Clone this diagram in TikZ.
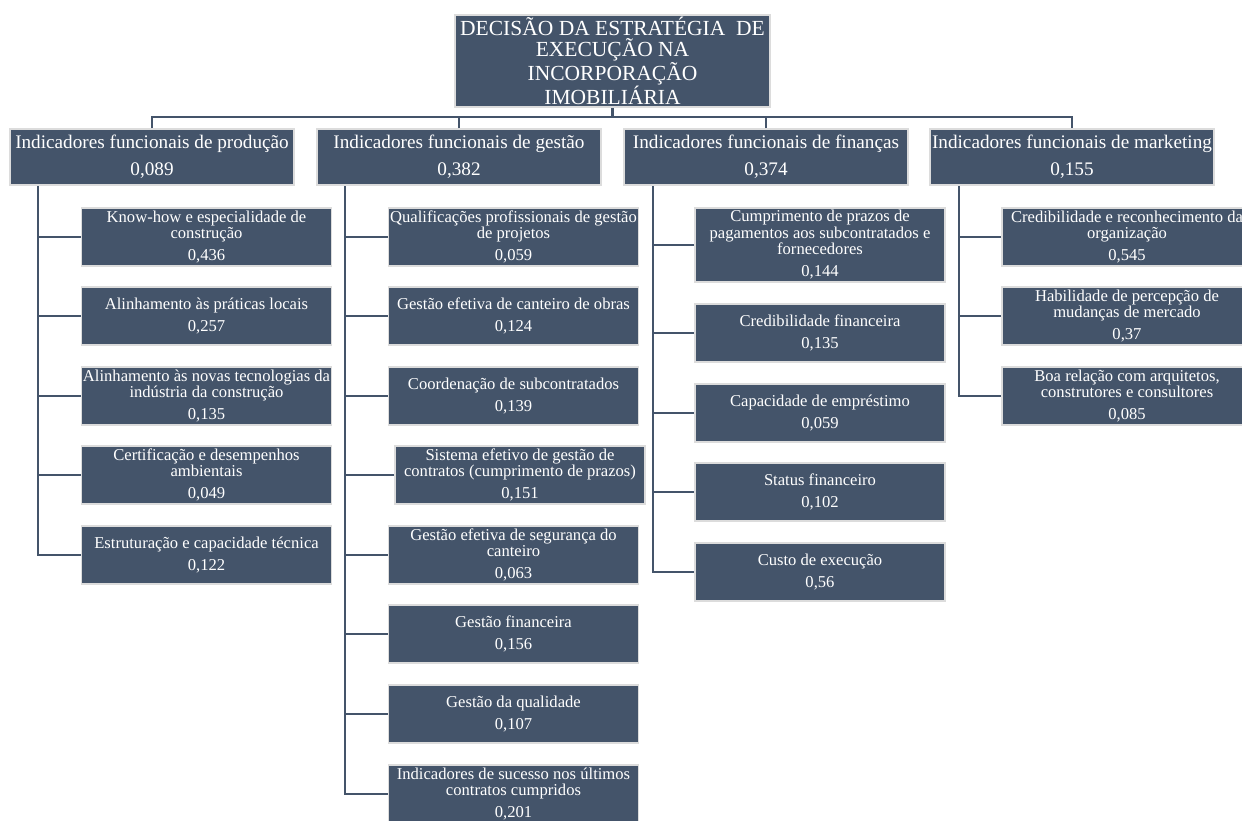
\documentclass[tikz,border=0pt]{standalone}
\usepackage{fontspec}
\setmainfont{Liberation Serif}
\definecolor{slate}{HTML}{44546A}
\definecolor{rim}{HTML}{DCDCDC}
\tikzset{
 box/.style={fill=slate, draw=rim, line width=1.6pt, text=white, align=center, inner sep=0pt},
 topbox/.style={box, minimum width=315pt, minimum height=92pt, font=\fontsize{21.5}{21}\selectfont},
 catbox/.style={box, minimum width=284pt, minimum height=56pt, font=\fontsize{19.2}{27}\selectfont},
 leaf/.style={box, minimum width=250pt, minimum height=58pt, font=\fontsize{16.6}{16.5}\selectfont},
 link/.style={draw=slate, line width=2.2pt},
}
\newcommand{\gap}{\\[5.5pt]}
\begin{document}
\begin{tikzpicture}[x=1pt,y=-1pt]
\clip (0,0) rectangle (1242,820);
\fill[white] (0,0) rectangle (1242,820);
% top
\node[topbox] (top) at (612.5,61) {DECISÃO DA ESTRATÉGIA\ \ DE\\EXECUÇÃO NA\\INCORPORAÇÃO\\IMOBILIÁRIA};
% level 1
\node[catbox] (cp) at (152,157) {Indicadores funcionais de produção\\0,089};
\node[catbox] (cg) at (459,157) {Indicadores funcionais de gestão\\0,382};
\node[catbox] (cf) at (766,157) {Indicadores funcionais de finanças\\0,374};
\node[catbox] (cm) at (1072,157) {Indicadores funcionais de marketing\\0,155};
\coordinate (bus) at (612.5,117);
\draw[link] (top.south) -- (bus);
\draw[link] (cp.north) |- (bus) -| (cm.north);
\draw[link] (cg.north) -- (cg.north |- bus);
\draw[link] (cf.north) -- (cf.north |- bus);
% production
\node[leaf] (p1) at (206.5,237) {Know-how e especialidade de\\construção\gap 0,436};
\node[leaf] (p2) at (206.5,316) {Alinhamento às práticas locais\gap 0,257};
\node[leaf] (p3) at (206.5,396) {Alinhamento às novas tecnologias da\\indústria da construção\gap 0,135};
\node[leaf] (p4) at (206.5,475) {Certificação e desempenhos\\ambientais\gap 0,049};
\node[leaf] (p5) at (206.5,555) {Estruturação e capacidade técnica\gap 0,122};
\coordinate (ps) at (38,186);
\draw[link] (ps) |- (p5.west);
\foreach \n in {p1,p2,p3,p4} \draw[link] (ps |- \n.west) -- (\n.west);
% gestao
\node[leaf] (g1) at (513.5,237) {Qualificações profissionais de gestão\\de projetos\gap 0,059};
\node[leaf] (g2) at (513.5,316) {Gestão efetiva de canteiro de obras\gap 0,124};
\node[leaf] (g3) at (513.5,396) {Coordenação de subcontratados\gap 0,139};
\node[leaf] (g4) at (520,475) {Sistema efetivo de gestão de\\contratos (cumprimento de prazos)\gap 0,151};
\node[leaf] (g5) at (513.5,555) {Gestão efetiva de segurança do\\canteiro\gap 0,063};
\node[leaf] (g6) at (513.5,634) {Gestão financeira\gap 0,156};
\node[leaf] (g7) at (513.5,714) {Gestão da qualidade\gap 0,107};
\node[leaf] (g8) at (513.5,794) {Indicadores de sucesso nos últimos\\contratos cumpridos\gap 0,201};
\coordinate (gs) at (345,186);
\draw[link] (gs) |- (g8.west);
\foreach \n in {g1,g2,g3,g4,g5,g6,g7} \draw[link] (gs |- \n.west) -- (\n.west);
% financas
\node[leaf, minimum height=74pt] (f1) at (820,245) {Cumprimento de prazos de\\pagamentos aos subcontratados e\\fornecedores\gap 0,144};
\node[leaf] (f2) at (820,333) {Credibilidade financeira\gap 0,135};
\node[leaf] (f3) at (820,413) {Capacidade de empréstimo\gap 0,059};
\node[leaf] (f4) at (820,492) {Status financeiro\gap 0,102};
\node[leaf] (f5) at (820,572) {Custo de execução\gap 0,56};
\coordinate (fs) at (653,186);
\draw[link] (fs) |- (f5.west);
\foreach \n in {f1,f2,f3,f4} \draw[link] (fs |- \n.west) -- (\n.west);
% marketing
\node[leaf] (m1) at (1127,237) {Credibilidade e reconhecimento da\\organização\gap 0,545};
\node[leaf] (m2) at (1127,316) {Habilidade de percepção de\\mudanças de mercado\gap 0,37};
\node[leaf] (m3) at (1127,396) {Boa relação com arquitetos,\\construtores e consultores\gap 0,085};
\coordinate (ms) at (959,186);
\draw[link] (ms) |- (m3.west);
\foreach \n in {m1,m2} \draw[link] (ms |- \n.west) -- (\n.west);
\end{tikzpicture}
\end{document}
